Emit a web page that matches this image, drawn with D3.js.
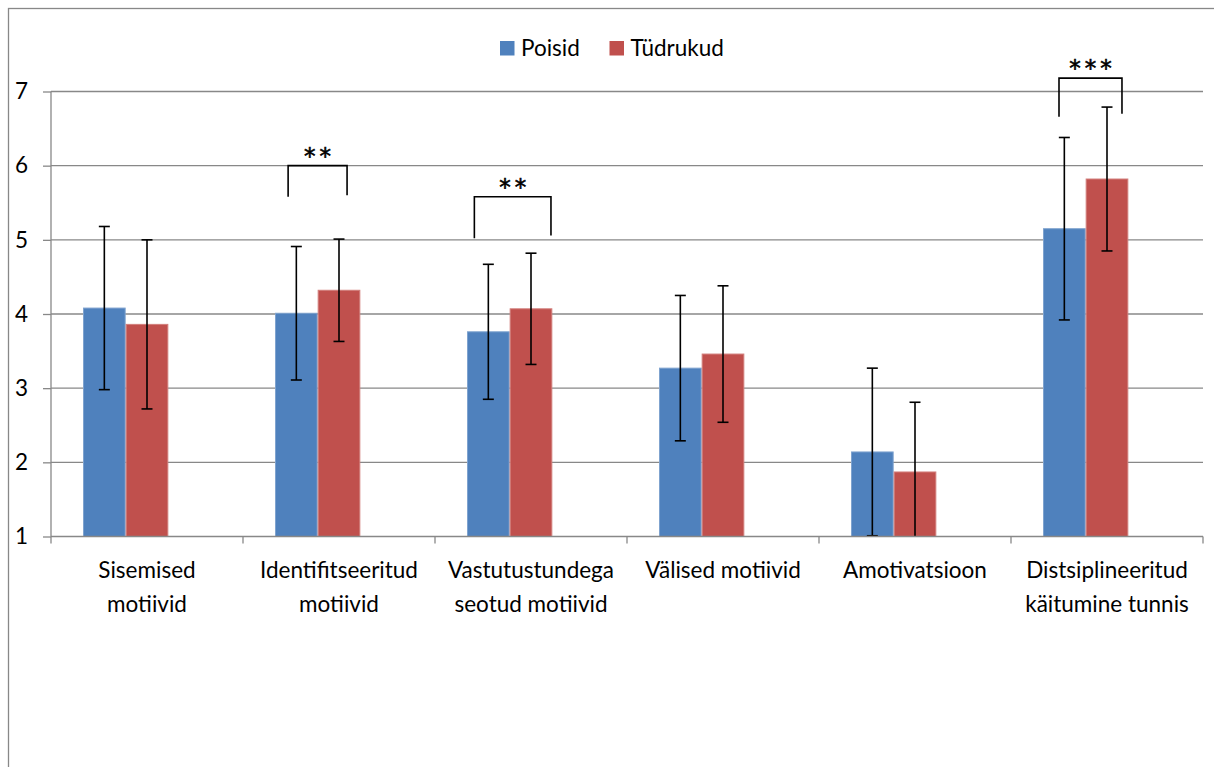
<!DOCTYPE html>
<html>
<head>
<meta charset="utf-8">
<script src="https://cdn.jsdelivr.net/npm/d3@7"></script>
<style>
  html, body { margin: 0; padding: 0; background: #fff; }
  svg { display: block; font-family: Lato, "Open Sans", sans-serif; }
</style>
</head>
<body>
<svg id="chart" width="1214" height="767"></svg>
<script>
// Motivation scale scores by gender (means with ±SD)
const categories = [
  "Sisemised\nmotiivid",
  "Identifitseeritud\nmotiivid",
  "Vastutustundega\nseotud motiivid",
  "Välised motiivid",
  "Amotivatsioon",
  "Distsiplineeritud\nkäitumine tunnis"
];
const seriesNames = ["Poisid", "Tüdrukud"];
const boysMean  = [4.08, 4.01, 3.76, 3.27, 2.14, 5.15];
const boysSD    = [1.10, 0.90, 0.91, 0.98, 1.13, 1.23];
const girlsMean = [3.86, 4.32, 4.07, 3.46, 1.87, 5.82];
const girlsSD   = [1.14, 0.69, 0.75, 0.92, 0.94, 0.97];
const yTicks = [1, 2, 3, 4, 5, 6, 7];

// Significance markers between the two groups
const sigCategory = [1, 2, 5];
const sigLabel    = ["**", "**", "***"];
const sigTop      = [6.00, 5.58, 7.18];
const sigLeftEnd  = [5.58, 5.02, 6.66];
const sigRightEnd = [5.60, 5.06, 6.70];

const colors = ["#4F81BD", "#C0504D"];
const edges  = ["#7FA3CF", "#D27E7B"];
const series = [
  { name: seriesNames[0], mean: boysMean,  sd: boysSD },
  { name: seriesNames[1], mean: girlsMean, sd: girlsSD }
];

const svg = d3.select("#chart");
const plot = { left: 51, right: 1203, top: 91.5, bottom: 536.5 };
const gridColor = "#888888";
const fontSize = 22.5;

// outer chart frame (runs past the right and bottom edges)
svg.append("rect")
  .attr("x", 8.5).attr("y", 8.5)
  .attr("width", 1300).attr("height", 900)
  .attr("fill", "none").attr("stroke", gridColor).attr("stroke-width", 1.3);

const y = d3.scaleLinear().domain([1, 7]).range([plot.bottom, plot.top]);
const x0 = d3.scaleBand().domain(categories).range([plot.left, plot.right]).padding(0);
// clustered layout with three slots per category; the third one stays empty
const x1 = d3.scaleBand().domain([0, 1, 2]).range([0, x0.bandwidth()])
  .paddingInner(0).paddingOuter(0.75);

// horizontal gridlines
svg.append("g").selectAll("line")
  .data(yTicks.filter(t => t > 1))
  .join("line")
  .attr("x1", plot.left).attr("x2", plot.right)
  .attr("y1", d => y(d)).attr("y2", d => y(d))
  .attr("stroke", gridColor).attr("stroke-width", 1.3);

// bars
const groups = svg.append("g").selectAll("g")
  .data(series).join("g");
groups.selectAll("rect")
  .data((s, si) => categories.map((c, ci) => ({ c, v: s.mean[ci], si })))
  .join("rect")
  .attr("x", d => x0(d.c) + x1(d.si) + 0.5)
  .attr("width", x1.bandwidth() - 1)
  .attr("y", d => y(d.v))
  .attr("height", d => y(1) - y(d.v))
  .attr("fill", d => colors[d.si])
  .attr("stroke", d => edges[d.si])
  .attr("stroke-width", 1);

// error bars (±SD), clipped at the bottom of the value axis
const capW = 11;
const errData = [];
series.forEach((s, si) => categories.forEach((c, ci) => {
  errData.push({ cx: x0(c) + x1(si) + x1.bandwidth() / 2,
                 hi: s.mean[ci] + s.sd[ci], lo: s.mean[ci] - s.sd[ci] });
}));
const eb = svg.append("g").attr("stroke", "#000").attr("stroke-width", 1.6).attr("fill", "none");
errData.forEach(d => {
  const lo = Math.max(d.lo, 1);
  eb.append("line").attr("x1", d.cx).attr("x2", d.cx)
    .attr("y1", y(d.hi)).attr("y2", y(lo));
  eb.append("line").attr("x1", d.cx - capW / 2).attr("x2", d.cx + capW / 2)
    .attr("y1", y(d.hi)).attr("y2", y(d.hi));
  if (d.lo >= 1) {
    eb.append("line").attr("x1", d.cx - capW / 2).attr("x2", d.cx + capW / 2)
      .attr("y1", y(d.lo)).attr("y2", y(d.lo));
  }
});

// value axis
const yAxis = svg.append("g")
  .attr("transform", `translate(${plot.left},0)`)
  .call(d3.axisLeft(y).tickValues(yTicks).tickSize(8).tickPadding(15).tickFormat(d3.format("d")));
yAxis.select(".domain").attr("stroke", gridColor).attr("stroke-width", 1.3)
  .attr("d", `M0,${plot.bottom}V${plot.top}`);
yAxis.selectAll(".tick line").attr("stroke", gridColor).attr("stroke-width", 1.3);
yAxis.selectAll(".tick text").attr("font-size", fontSize).attr("fill", "#000")
  .attr("font-family", "Lato, sans-serif");

// category axis: boundary ticks between categories
const xAxis = svg.append("g");
xAxis.append("line")
  .attr("x1", plot.left).attr("x2", plot.right)
  .attr("y1", plot.bottom).attr("y2", plot.bottom)
  .attr("stroke", gridColor).attr("stroke-width", 1.3);
const bounds = categories.map(c => x0(c)).concat([plot.right]);
xAxis.selectAll("line.bt").data(bounds).join("line").attr("class", "bt")
  .attr("x1", d => d).attr("x2", d => d)
  .attr("y1", plot.bottom).attr("y2", plot.bottom + 7)
  .attr("stroke", gridColor).attr("stroke-width", 1.3);

// category labels, wrapped on two lines where needed
const labels = xAxis.selectAll("text").data(categories).join("text")
  .attr("x", d => x0(d) + x0.bandwidth() / 2)
  .attr("y", plot.bottom + 41.5)
  .attr("text-anchor", "middle")
  .attr("font-size", fontSize).attr("fill", "#000");
labels.selectAll("tspan").data(d => d.split("\n").map(t => ({ t, c: d }))).join("tspan")
  .attr("x", d => x0(d.c) + x0.bandwidth() / 2)
  .attr("dy", (d, i) => i === 0 ? 0 : 33.5)
  .text(d => d.t);

// significance brackets
const bracketX = [[0.235, 0.542], [0.205, 0.604], [0.25, 0.578]];
const br = svg.append("g");
sigCategory.forEach((ci, k) => {
  const c = categories[ci];
  const xl = x0(c) + bracketX[k][0] * x0.bandwidth();
  const xr = x0(c) + bracketX[k][1] * x0.bandwidth();
  br.append("path")
    .attr("d", `M${xl},${y(sigLeftEnd[k])}V${y(sigTop[k])}H${xr}V${y(sigRightEnd[k])}`)
    .attr("fill", "none").attr("stroke", "#000").attr("stroke-width", 1.6);
  br.append("text")
    .attr("x", (xl + xr) / 2 + 2)
    .attr("y", y(sigTop[k]) - 2)
    .attr("text-anchor", "middle")
    .attr("font-size", 23).attr("letter-spacing", 4)
    .attr("font-family", "'DejaVu Sans', sans-serif")
    .attr("stroke", "#000").attr("stroke-width", 0.6)
    .text(sigLabel[k]);
});

// legend
const legend = svg.append("g");
const legendX = [500, 609.5];
seriesNames.forEach((n, i) => {
  legend.append("rect")
    .attr("x", legendX[i]).attr("y", 41)
    .attr("width", 14.5).attr("height", 14.5)
    .attr("fill", colors[i]);
  legend.append("text")
    .attr("x", legendX[i] + 21).attr("y", 55.5)
    .attr("font-size", fontSize).attr("fill", "#000")
    .text(n);
});
</script>
</body>
</html>
